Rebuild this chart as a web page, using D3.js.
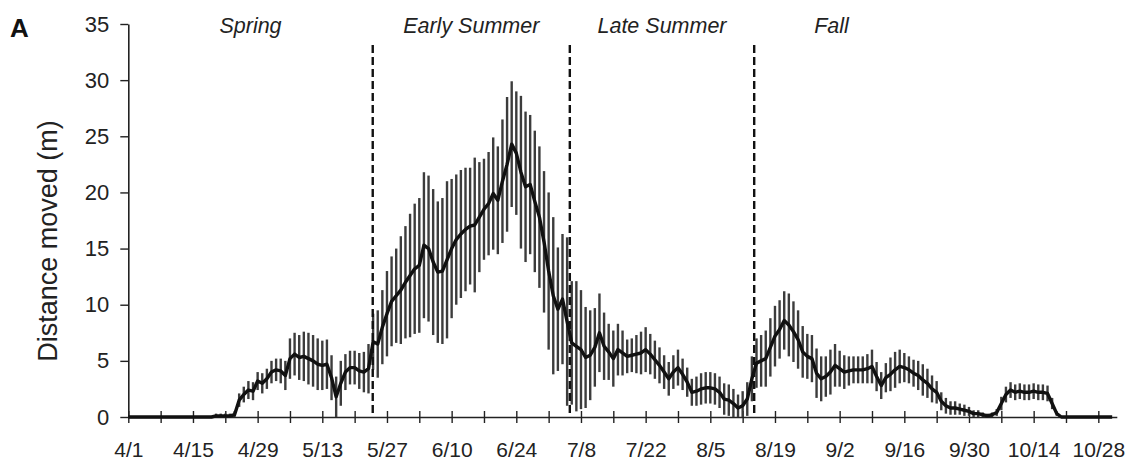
<!DOCTYPE html>
<html>
<head>
<meta charset="utf-8">
<script src="https://cdn.jsdelivr.net/npm/d3@7"></script>
<style>
  html, body { margin: 0; padding: 0; background: #fff; }
  svg { display: block; font-family: "Liberation Sans", Arial, sans-serif; }
</style>
</head>
<body>
<main></main>
<script>
// Constants
const WIDTH = 1135;
const HEIGHT = 462;
const X0 = 128.3;
const X1 = 1116.8;
const Y_TOP = 24;
const Y_BOT = 417;

// Data: one value per day starting at 4/1
const START = new Date(2013, 3, 1);

// mean distance moved (m)
const meanValues = [
  0, 0, 0, 0, 0, 0, 0, 0, 0, 0, 0, 0, 0, 0, 0, 0, 0, 0, 0,
  0.1, 0.1, 0.1, 0.1,
  0.2,
  1.5, 2.0, 2.4, 2.3, 3.2, 3.0, 3.4, 4.0, 4.2, 4.1, 3.7,
  5.2, 5.6, 5.3, 5.4, 5.2, 5.0, 4.7, 4.6, 4.7, 3.5, 1.8, 3.0,
  4.0, 4.4, 4.4, 4.1, 4.0, 4.3,
  6.7, 6.5, 8.0, 9.2, 10.3, 10.8, 11.3, 12.0, 12.6, 13.2, 13.5,
  15.3, 15.0, 13.8, 12.9, 13.0, 14.0, 15.0, 15.8, 16.3, 16.7, 17.0, 17.1,
  17.8, 18.5, 19.0, 19.9, 19.3, 21.0, 22.5, 24.3, 23.5, 21.8, 20.5, 20.7,
  19.2, 17.8, 15.6, 13.0, 10.8, 9.6, 10.5, 8.5, 6.6, 6.3, 6.0, 5.3,
  5.5, 6.2, 7.5, 6.3, 5.8, 5.2, 6.0, 5.7, 5.4, 5.5, 5.6, 5.7,
  6.0, 5.6, 5.1, 4.6, 4.0, 3.4, 4.0, 4.4, 3.8, 3.1, 2.2, 2.3,
  2.5, 2.6, 2.6, 2.5, 2.2, 1.6, 1.5, 1.2, 0.8, 1.0, 1.6, 3.4,
  4.8, 5.0, 5.2, 6.2, 7.2, 7.8, 8.6, 8.2, 7.6, 6.9, 5.8, 5.4,
  5.2, 3.9, 3.4, 3.6, 4.0, 4.6, 4.3, 4.0, 4.1, 4.2, 4.2, 4.2,
  4.3, 4.5, 3.6, 2.8, 3.5, 3.8, 4.2, 4.5, 4.4, 4.2, 3.9, 3.7,
  3.3, 3.0, 2.5, 2.2, 1.4, 1.0, 0.8, 0.8, 0.7, 0.6, 0.5, 0.3,
  0.3, 0.2, 0.1, 0.2, 0.4, 1.2, 2.0, 2.4, 2.2, 2.3, 2.2, 2.2,
  2.3, 2.2, 2.2, 2.1, 1.2, 0.3,
  0, 0, 0, 0, 0, 0, 0, 0, 0, 0, 0, 0,
];

// half-length of the error bar (m)
const errValues = [
  0, 0, 0, 0, 0, 0, 0, 0, 0, 0, 0, 0, 0, 0, 0, 0, 0, 0, 0,
  0.2, 0.2, 0.2, 0.2,
  0.3,
  0.6, 0.7, 0.8, 0.8, 0.8, 0.9, 0.9, 1.0, 1.0, 1.1, 1.3,
  1.8, 1.9, 2.0, 2.2, 2.3, 2.3, 2.3, 2.2, 2.2, 2.0, 1.8, 2.0,
  1.6, 1.5, 1.5, 1.6, 1.8, 2.2,
  2.5, 3.0, 3.3, 3.8, 4.0, 4.2, 4.8, 5.0, 5.5, 5.8, 6.0,
  6.5, 6.5, 6.5, 6.3, 6.5, 7.0, 6.2, 5.8, 5.7, 5.5, 5.2, 6.0,
  4.9, 4.5, 4.6, 5.0, 4.8, 5.5, 6.0, 5.6, 5.5, 6.8, 6.7, 6.2,
  6.3, 6.3, 6.3, 7.0, 7.0, 5.5, 5.8, 7.5, 5.5, 5.8, 5.3, 4.5,
  4.0, 3.5, 3.5, 3.0, 2.5, 2.5, 2.3, 2.0, 1.5, 1.5, 1.7, 1.9,
  2.0, 1.8, 1.7, 1.6, 1.5, 1.5, 1.5, 1.6, 1.4, 1.3, 1.2, 1.3,
  1.4, 1.4, 1.4, 1.4, 1.4, 1.4, 1.4, 1.3, 1.2, 1.3, 1.5, 2.0,
  2.2, 2.3, 2.5, 2.6, 2.7, 2.6, 2.6, 2.8, 2.7, 2.6, 2.3, 2.0,
  2.1, 2.2, 2.0, 1.8, 2.0, 1.9, 1.6, 1.5, 1.3, 1.2, 1.2, 1.2,
  1.3, 1.5, 1.3, 1.2, 1.3, 1.5, 1.6, 1.5, 1.3, 1.2, 1.2, 1.3,
  1.4, 1.3, 1.2, 1.0, 0.8, 0.7, 0.6, 0.6, 0.5, 0.5, 0.4, 0.3,
  0.3, 0.2, 0.2, 0.2, 0.3, 0.6, 0.7, 0.7, 0.7, 0.7, 0.7, 0.7,
  0.7, 0.7, 0.7, 0.7, 0.5, 0.2,
  0, 0, 0, 0, 0, 0, 0, 0, 0, 0, 0, 0,
];

// Seasons (start / end in days after 4/1)
const seasonNames = ['Spring', 'Early Summer', 'Late Summer', 'Fall'];
const seasonStart = [0, 52.9, 95.6, 135.5];
const seasonEnd = [52.9, 95.6, 135.5, 169];
const boundaryDays = [52.9, 95.6, 135.5];

const yTicks = [0, 5, 10, 15, 20, 25, 30, 35];

const dayToDate = (d) => d3.timeHour.offset(START, Math.round(d * 24));

function init() {
  const data = meanValues.map((m, i) => ({
    date: d3.timeDay.offset(START, i),
    mean: m,
    err: errValues[i],
  }));

  const xScale = d3.scaleTime([START, dayToDate(214)], [X0, X1]);
  const yScale = d3.scaleLinear([0, 35], [Y_BOT, Y_TOP]);

  const svg = d3
    .select('main')
    .append('svg')
    .attr('width', WIDTH)
    .attr('height', HEIGHT);

  // Y Axis
  const yAxis = d3
    .axisLeft(yScale)
    .tickValues(yTicks)
    .tickSize(8)
    .tickSizeOuter(0)
    .tickPadding(11);

  const gy = svg
    .append('g')
    .attr('id', 'y-axis')
    .attr('transform', `translate(${X0}, 0)`)
    .call(yAxis);
  gy.select('.domain').attr('stroke', '#222').attr('stroke-width', 1.6);
  gy.selectAll('.tick line').attr('stroke', '#222').attr('stroke-width', 1.4);
  gy.selectAll('.tick text')
    .attr('font-size', 22)
    .attr('fill', '#222')
    .attr('font-family', '"Liberation Sans", Arial, sans-serif');

  // X Axis (weekly ticks, labels every two weeks)
  const weekTicks = d3.range(0, 211, 7).map((d) => d3.timeDay.offset(START, d));
  const xAxis = d3
    .axisBottom(xScale)
    .tickValues(weekTicks)
    .tickSize(6)
    .tickSizeOuter(0)
    .tickPadding(19)
    .tickFormat((d, i) => (i % 2 === 0 ? d3.timeFormat('%-m/%-d')(d) : ''));

  const gx = svg
    .append('g')
    .attr('id', 'x-axis')
    .attr('transform', `translate(0, ${Y_BOT})`)
    .call(xAxis);
  gx.select('.domain').attr('stroke', '#222').attr('stroke-width', 1.6);
  gx.selectAll('.tick line')
    .attr('y1', -6)
    .attr('stroke', '#222')
    .attr('stroke-width', 1.4);
  gx.selectAll('.tick text')
    .attr('font-size', 21)
    .attr('fill', '#222')
    .attr('font-family', '"Liberation Sans", Arial, sans-serif');

  // Error bars
  svg
    .append('g')
    .attr('class', 'errors')
    .selectAll('line')
    .data(data.filter((d) => d.err > 0))
    .enter()
    .append('line')
    .attr('x1', (d) => xScale(d.date))
    .attr('x2', (d) => xScale(d.date))
    .attr('y1', (d) => yScale(Math.max(0, d.mean - d.err)))
    .attr('y2', (d) => yScale(d.mean + d.err))
    .attr('stroke', '#3c3c3c')
    .attr('stroke-width', 2.4);

  // Mean line
  const line = d3
    .line()
    .x((d) => xScale(d.date))
    .y((d) => yScale(d.mean));

  svg
    .append('path')
    .datum(data)
    .attr('d', line)
    .attr('fill', 'none')
    .attr('stroke', '#111')
    .attr('stroke-width', 3.4)
    .attr('stroke-linejoin', 'round');

  // Season boundaries
  svg
    .append('g')
    .selectAll('line')
    .data(boundaryDays)
    .enter()
    .append('line')
    .attr('x1', (d) => xScale(dayToDate(d)))
    .attr('x2', (d) => xScale(dayToDate(d)))
    .attr('y1', 45)
    .attr('y2', Y_BOT)
    .attr('stroke', '#111')
    .attr('stroke-width', 2.4)
    .attr('stroke-dasharray', '8,4');

  // Season labels
  svg
    .append('g')
    .selectAll('text')
    .data(seasonNames)
    .enter()
    .append('text')
    .text((d) => d)
    .attr('x', (_, i) => xScale(dayToDate((seasonStart[i] + seasonEnd[i]) / 2)))
    .attr('y', 33)
    .attr('text-anchor', 'middle')
    .attr('font-style', 'italic')
    .attr('font-size', 21.5)
    .attr('fill', '#222');

  // Y axis title
  svg
    .append('text')
    .text('Distance moved (m)')
    .attr('transform', 'translate(57, 241) rotate(-90)')
    .attr('text-anchor', 'middle')
    .attr('font-size', 27)
    .attr('fill', '#222');

  // Panel letter
  svg
    .append('text')
    .text('A')
    .attr('x', 10)
    .attr('y', 37)
    .attr('font-weight', 'bold')
    .attr('font-size', 26)
    .attr('fill', '#111');
}

init();
</script>
</body>
</html>
